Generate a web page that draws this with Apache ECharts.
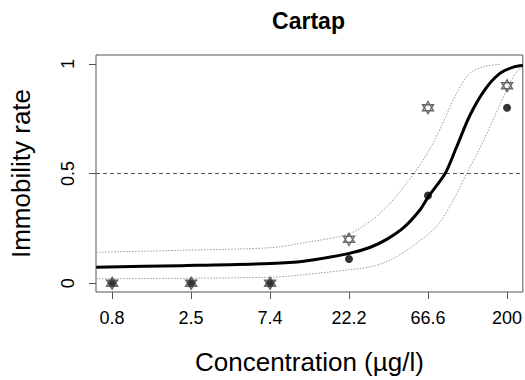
<!DOCTYPE html>
<html>
<head>
<meta charset="utf-8">
<script src="https://cdn.jsdelivr.net/npm/echarts@6/dist/echarts.min.js"></script>
<style>
html,body{margin:0;padding:0;background:#fff;}
#chart{width:525px;height:380px;}
</style>
</head>
<body>
<div id="chart"></div>
<script>
// ---- data ----
const titleText = 'Cartap';
const xTitle = 'Concentration (µg/l)';
const yTitle = 'Immobility rate';

const tickConc = [0.823, 2.47, 7.41, 22.2, 66.6, 200];
const tickLabels = ['0.8', '2.5', '7.4', '22.2', '66.6', '200'];
const yTicks = [0, 0.5, 1];

const obsConc = [0.823, 2.47, 7.41, 22.2, 66.6, 200];
const circleRate = [0, 0, 0, 0.11, 0.40, 0.80];
const starRate = [0, 0, 0, 0.20, 0.80, 0.90];

const fitConc = [0.66, 2.15, 7.48, 11.8, 22.0, 29.9, 37.7, 47.4, 59.7, 67.0, 84.5, 98.4, 119, 147, 181, 218, 249];
const fitRate = [0.073, 0.080, 0.090, 0.100, 0.135, 0.164, 0.201, 0.253, 0.335, 0.395, 0.50, 0.615, 0.763, 0.882, 0.956, 0.985, 0.992];

const upperConc = [0.66, 2.15, 7.48, 11.8, 22.0, 29.9, 37.7, 47.4, 57.1, 67.0, 80.7, 99.3, 119, 147, 185];
const upperRate = [0.141, 0.150, 0.162, 0.184, 0.224, 0.283, 0.349, 0.438, 0.52, 0.60, 0.719, 0.867, 0.956, 0.988, 0.998];

const lowerConc = [0.66, 7.48, 11.8, 22.0, 29.9, 39.4, 54.5, 75.3, 94.8, 114, 137, 169, 199, 228, 249];
const lowerRate = [0.020, 0.027, 0.039, 0.061, 0.075, 0.105, 0.172, 0.26, 0.379, 0.50, 0.615, 0.763, 0.882, 0.963, 0.985];

const xMinConc = 0.658;
const xMaxConc = 249;
const refLine = 0.5;

// ---- build ----
const L = v => Math.log10(v);
const pairs = (xs, ys) => xs.map((x, i) => [L(x), ys[i]]);
const tickPos = tickConc.map(L);
const FONT = '"Liberation Sans", Arial, sans-serif';
const starPath = 'path://M0,-10L8.66,5L-8.66,5Z M0,10L8.66,-5L-8.66,-5Z';

const chart = echarts.init(document.getElementById('chart'), null, {renderer: 'svg'});
chart.setOption({
  animation: false,
  backgroundColor: '#fff',
  textStyle: {fontFamily: FONT},
  graphic: [{
    type: 'text', x: 308.5, y: 21, z: 10,
    style: {text: titleText, fontFamily: FONT, fontSize: 23, fontWeight: 'bold', fill: '#000',
            align: 'center', verticalAlign: 'middle'}
  }],
  grid: {left: 94, right: 2, top: 55, bottom: 83, show: true, borderColor: '#555', borderWidth: 1,
         backgroundColor: 'transparent', containLabel: false},
  xAxis: {
    type: 'value', min: L(xMinConc), max: L(xMaxConc),
    name: xTitle, nameLocation: 'middle', nameGap: 57,
    nameTextStyle: {fontSize: 26, color: '#000', fontFamily: FONT},
    axisLine: {show: false, onZero: false},
    splitLine: {show: false},
    axisTick: {show: true, length: 7, lineStyle: {color: '#555', width: 1}, customValues: tickPos},
    axisLabel: {fontSize: 18, color: '#000', margin: 17, fontFamily: FONT, customValues: tickPos,
      formatter: v => {
        let best = 0;
        tickPos.forEach((p, i) => { if (Math.abs(p - v) < Math.abs(tickPos[best] - v)) best = i; });
        return tickLabels[best];
      }}
  },
  yAxis: {
    type: 'value', min: -0.04, max: 1.04,
    name: yTitle, nameLocation: 'middle', nameGap: 62, nameRotate: 90,
    nameTextStyle: {fontSize: 26, color: '#000', fontFamily: FONT},
    axisLine: {show: false, onZero: false},
    splitLine: {show: false},
    axisTick: {show: true, length: 7, lineStyle: {color: '#555', width: 1}, customValues: yTicks},
    axisLabel: {fontSize: 18, color: '#000', margin: 19, rotate: 90, fontFamily: FONT, customValues: yTicks,
      formatter: v => String(v)}
  },
  series: [
    {type: 'line', data: pairs(upperConc, upperRate), showSymbol: false, smooth: 0.3,
     lineStyle: {color: '#999', width: 1, type: [1.5, 1.5]}, z: 2},
    {type: 'line', data: pairs(lowerConc, lowerRate), showSymbol: false, smooth: 0.3,
     lineStyle: {color: '#999', width: 1, type: [1.5, 1.5]}, z: 2},
    {type: 'line', data: [[L(xMinConc), refLine], [L(xMaxConc), refLine]], showSymbol: false,
     lineStyle: {color: '#555', width: 1, type: [4, 3]}, z: 3},
    {type: 'line', data: pairs(fitConc, fitRate), showSymbol: false, smooth: 0.3,
     lineStyle: {color: '#000', width: 3}, z: 4},
    {type: 'scatter', data: pairs(obsConc, circleRate), symbol: 'circle', symbolSize: 8,
     itemStyle: {color: '#000'}, z: 5},
    {type: 'scatter', data: pairs(obsConc, starRate), symbol: starPath, symbolSize: [11, 12],
     itemStyle: {color: 'rgba(0,0,0,0)', borderColor: '#444', borderWidth: 1.4}, z: 6}
  ]
});
</script>
</body>
</html>
